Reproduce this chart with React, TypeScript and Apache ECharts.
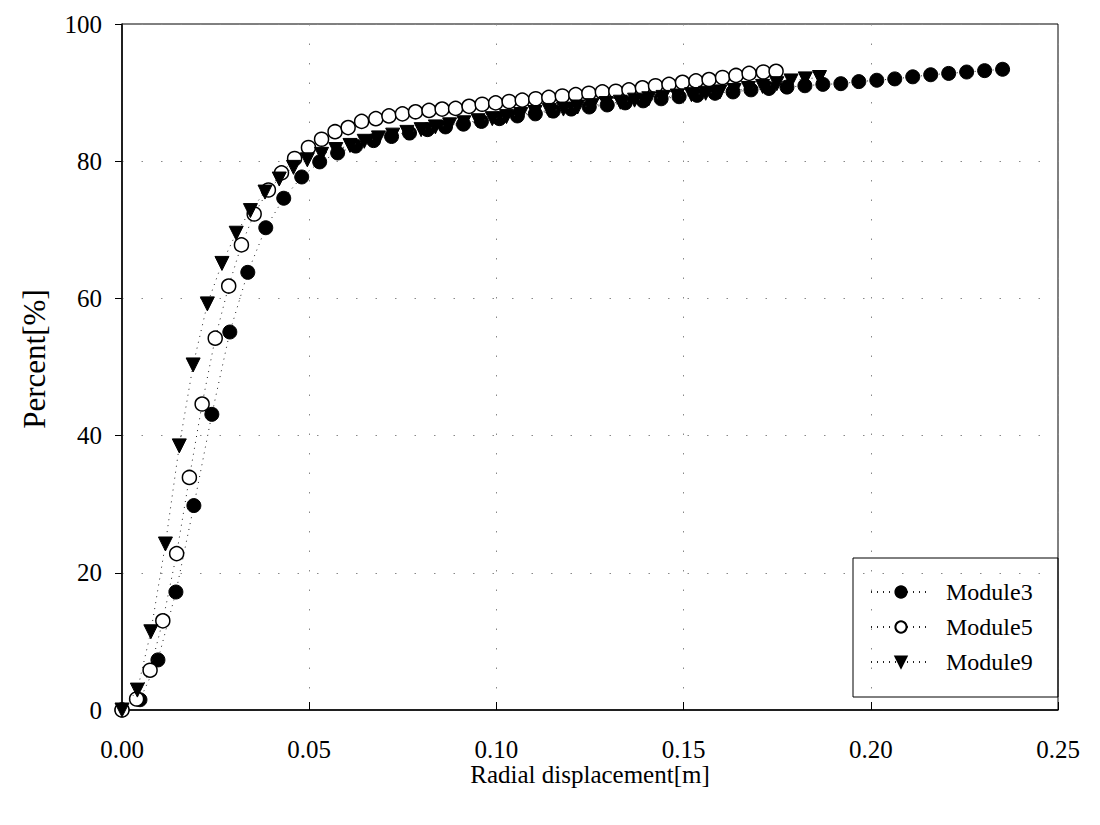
import React, { useEffect, useRef } from "react";
import * as echarts from "echarts";

const xTicks = ["0.00", "0.05", "0.10", "0.15", "0.20", "0.25"];
const yTicks = ["0", "20", "40", "60", "80", "100"];

const m3X = [0, 0.0048, 0.0096, 0.0144, 0.0192, 0.024, 0.0288, 0.0336, 0.0384, 0.0432, 0.048, 0.0528, 0.0576, 0.0624, 0.0672, 0.072, 0.0768, 0.0816, 0.0864, 0.0912, 0.096, 0.1008, 0.1056, 0.1104, 0.1152, 0.12, 0.1248, 0.1296, 0.1344, 0.1392, 0.144, 0.1488, 0.1536, 0.1584, 0.1632, 0.168, 0.1728, 0.1776, 0.1824, 0.1872, 0.192, 0.1968, 0.2016, 0.2064, 0.2112, 0.216, 0.2208, 0.2256, 0.2304, 0.2352];
const m3Y = [0, 1.5, 7.3, 17.2, 29.8, 43.1, 55.1, 63.8, 70.3, 74.6, 77.7, 79.9, 81.2, 82.2, 83.0, 83.6, 84.1, 84.6, 85.0, 85.4, 85.8, 86.2, 86.6, 86.9, 87.3, 87.6, 87.9, 88.2, 88.5, 88.8, 89.1, 89.4, 89.6, 89.9, 90.1, 90.4, 90.6, 90.8, 91.0, 91.2, 91.3, 91.6, 91.8, 92.0, 92.3, 92.6, 92.8, 93.0, 93.2, 93.4];

const m5X = [0, 0.0039, 0.0075, 0.0109, 0.0146, 0.018, 0.0214, 0.0249, 0.0285, 0.0319, 0.0353, 0.0391, 0.0426, 0.0461, 0.0498, 0.0533, 0.0569, 0.0604, 0.064, 0.0678, 0.0713, 0.0749, 0.0784, 0.082, 0.0855, 0.0891, 0.0927, 0.0962, 0.0998, 0.1034, 0.1069, 0.1105, 0.114, 0.1176, 0.1212, 0.1247, 0.1283, 0.1319, 0.1354, 0.139, 0.1425, 0.1461, 0.1497, 0.1533, 0.1568, 0.1604, 0.164, 0.1675, 0.1713, 0.1747];
const m5Y = [0, 1.6, 5.8, 13.0, 22.8, 33.9, 44.6, 54.2, 61.8, 67.8, 72.3, 75.8, 78.3, 80.4, 82.0, 83.2, 84.3, 84.9, 85.8, 86.2, 86.6, 86.9, 87.2, 87.4, 87.6, 87.7, 88.0, 88.3, 88.5, 88.7, 88.9, 89.1, 89.3, 89.5, 89.7, 89.9, 90.1, 90.2, 90.4, 90.7, 91.0, 91.2, 91.5, 91.7, 91.9, 92.2, 92.5, 92.8, 93.0, 93.1];

const m9X = [0, 0.0041, 0.0077, 0.0116, 0.0153, 0.019, 0.0228, 0.0267, 0.0305, 0.0343, 0.0382, 0.042, 0.0458, 0.0495, 0.0533, 0.0571, 0.0609, 0.0647, 0.0685, 0.0723, 0.0761, 0.0799, 0.0837, 0.0875, 0.0913, 0.0951, 0.0989, 0.1027, 0.1065, 0.1103, 0.1141, 0.1179, 0.1217, 0.1255, 0.1293, 0.1331, 0.1369, 0.1407, 0.1445, 0.1483, 0.1521, 0.1559, 0.1597, 0.1635, 0.1673, 0.1711, 0.1749, 0.1787, 0.1825, 0.1863];
const m9Y = [0, 2.9, 11.4, 24.2, 38.5, 50.3, 59.2, 65.1, 69.5, 72.8, 75.5, 77.4, 79.1, 80.2, 81.0, 81.7, 82.3, 82.9, 83.4, 83.8, 84.2, 84.6, 85.0, 85.3, 85.6, 85.9, 86.2, 86.5, 86.8, 87.1, 87.4, 87.6, 87.9, 88.1, 88.4, 88.6, 88.9, 89.1, 89.3, 89.5, 89.7, 89.9, 90.1, 90.3, 90.6, 90.9, 91.3, 91.7, 92.0, 92.2];

const seriesNames = ["Module3", "Module5", "Module9"];

const FONT = "'Liberation Serif', 'DejaVu Serif', serif";

function pairs(xs: number[], ys: number[]) {
  return xs.map((x, i) => [x, ys[i]]);
}

export default function App() {
  const ref = useRef<HTMLDivElement>(null);
  useEffect(() => {
    document.body.style.margin = "0";
    const chart = echarts.init(ref.current!, null, { renderer: "svg" });
    const dotted = { color: "#222", width: 1, type: [1, 5] as any };
    const gridLine = { show: true, lineStyle: { color: "#888", width: 1, type: [1.5, 18] as any } };
    chart.setOption({
      animation: false,
      backgroundColor: "#fff",
      grid: { left: 122, top: 24, width: 936, height: 686, show: true, borderColor: "#000", borderWidth: 1, backgroundColor: "transparent" },
      xAxis: {
        type: "value",
        min: 0,
        max: 0.25,
        interval: 0.05,
        name: "Radial displacement[m]",
        nameLocation: "middle",
        nameGap: 52,
        nameMoveOverlap: false,
        nameTextStyle: { fontFamily: FONT, fontSize: 25, lineHeight: 24, color: "#000" },
        axisLine: { lineStyle: { color: "#000", width: 1.5 } },
        axisTick: { inside: true, length: 8, lineStyle: { color: "#000" } },
        axisLabel: { fontFamily: FONT, fontSize: 25, lineHeight: 22, color: "#000", margin: 28, formatter: (v: number) => xTicks[Math.round(v / 0.05)] },
        splitLine: gridLine,
      },
      yAxis: {
        type: "value",
        min: 0,
        max: 100,
        interval: 20,
        name: "Percent[%]",
        nameLocation: "middle",
        nameGap: 72,
        nameMoveOverlap: false,
        nameTextStyle: { fontFamily: FONT, fontSize: 31, color: "#000", padding: [0, 0, 0, 16] },
        axisLine: { show: true, lineStyle: { color: "#000", width: 1.5 } },
        axisTick: { show: true, inside: false, length: 7, lineStyle: { color: "#000" } },
        axisLabel: { fontFamily: FONT, fontSize: 25, color: "#000", margin: 20, formatter: (v: number) => yTicks[Math.round(v / 20)] },
        splitLine: gridLine,
      },
      legend: {
        orient: "vertical",
        left: 865,
        top: 575,
        itemWidth: 60,
        itemHeight: 14,
        itemGap: 11,
        textStyle: { fontFamily: FONT, fontSize: 24, color: "#000", padding: [0, 0, 0, 10] },
        data: seriesNames,
      },
      graphic: [
        { type: "rect", shape: { x: 853, y: 558, width: 205, height: 139 }, style: { fill: "none", stroke: "#000", lineWidth: 1 }, z: 10 },
      ],
      series: [
        {
          name: seriesNames[0],
          type: "line",
          data: pairs(m3X, m3Y),
          symbol: "circle",
          symbolSize: 14,
          showAllSymbol: true,
          lineStyle: dotted,
          itemStyle: { color: "#000", borderColor: "#000", borderWidth: 1 },
          z: 3,
        },
        {
          name: seriesNames[1],
          type: "line",
          data: pairs(m5X, m5Y),
          symbol: "circle",
          symbolSize: 14,
          showAllSymbol: true,
          lineStyle: dotted,
          itemStyle: { color: "#fff", borderColor: "#000", borderWidth: 1.5 },
          z: 4,
        },
        {
          name: seriesNames[2],
          type: "line",
          data: pairs(m9X, m9Y),
          symbol: "triangle",
          symbolRotate: 180,
          symbolSize: 14,
          showAllSymbol: true,
          lineStyle: dotted,
          itemStyle: { color: "#000", borderColor: "#000", borderWidth: 1 },
          z: 5,
        },
      ],
    });
    return () => chart.dispose();
  }, []);
  return <div ref={ref} style={{ width: 1100, height: 825 }} />;
}
